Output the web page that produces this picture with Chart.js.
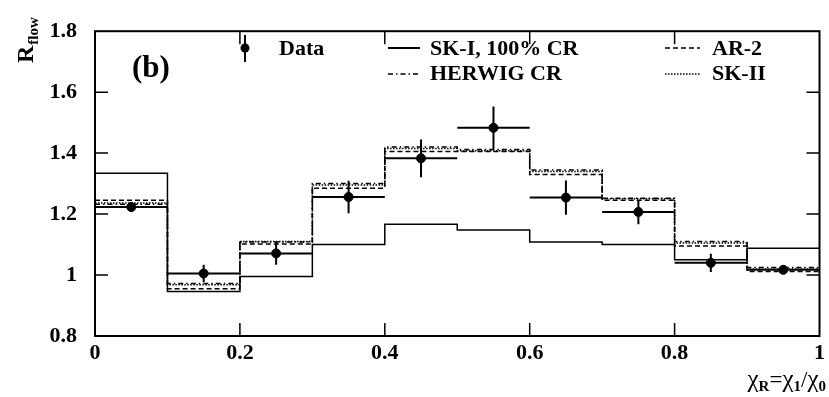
<!DOCTYPE html>
<html>
<head>
<meta charset="utf-8">
<script src="https://cdn.jsdelivr.net/npm/chart.js@4"></script>
<style>
  body { margin: 0; background: #fff; }
  canvas { display: block; }
</style>
</head>
<body>
<canvas id="myChart" width="829" height="397"></canvas>
<script>
// bin edges of the histograms, data points sit at the bin centres
var binEdges = [0, 0.1, 0.2, 0.3, 0.4, 0.5, 0.6, 0.7, 0.8, 0.9, 1.0];
var binCentres = [0.05, 0.15, 0.25, 0.35, 0.45, 0.55, 0.65, 0.75, 0.85, 0.95];

var dataVals = [1.223, 1.005, 1.071, 1.256, 1.383, 1.483, 1.254, 1.207, 1.040, 1.017];
var dataErr  = [0.016, 0.029, 0.037, 0.053, 0.062, 0.070, 0.056, 0.040, 0.030, 0.010];

var sk1Vals    = [1.334, 0.946, 0.995, 1.100, 1.167, 1.148, 1.108, 1.100, 1.050, 1.088];
var ar2Vals    = [1.245, 0.955, 1.102, 1.285, 1.405, 1.405, 1.330, 1.245, 1.095, 1.012];
var herwigVals = [1.232, 0.972, 1.108, 1.300, 1.420, 1.412, 1.345, 1.252, 1.110, 1.025];
var sk2Vals    = [1.236, 0.968, 1.110, 1.295, 1.415, 1.408, 1.340, 1.250, 1.105, 1.020];

var xTicks = [0, 0.2, 0.4, 0.6, 0.8, 1];
var yTicks = [0.8, 1, 1.2, 1.4, 1.6, 1.8];

var FONT = "'Liberation Serif', 'Times New Roman', serif";

function histPoints(vals) {
    var pts = [];
    for (var i = 0; i < vals.length; i++) pts.push({x: binEdges[i], y: vals[i]});
    pts.push({x: binEdges[binEdges.length - 1], y: vals[vals.length - 1]});
    return pts;
}

function histDataset(label, vals, width, dash) {
    return {
        type: 'line',
        label: label,
        data: histPoints(vals),
        stepped: true,
        borderColor: '#000',
        borderWidth: width,
        borderDash: dash,
        pointRadius: 0,
        fill: false
    };
}

// error bars, frame, inside ticks, legend and axis titles
var decorPlugin = {
    id: 'decor',
    afterDatasetsDraw: function(chart) {
        var ctx = chart.ctx;
        var xs = chart.scales.x, ys = chart.scales.y;
        ctx.save();
        ctx.strokeStyle = '#000';
        ctx.lineWidth = 2;
        for (var i = 0; i < dataVals.length; i++) {
            var px = xs.getPixelForValue(binCentres[i]);
            var py = ys.getPixelForValue(dataVals[i]);
            ctx.beginPath();
            ctx.moveTo(xs.getPixelForValue(binCentres[i] - 0.05), py);
            ctx.lineTo(xs.getPixelForValue(binCentres[i] + 0.05), py);
            ctx.moveTo(px, ys.getPixelForValue(dataVals[i] - dataErr[i]));
            ctx.lineTo(px, ys.getPixelForValue(dataVals[i] + dataErr[i]));
            ctx.stroke();
        }
        ctx.restore();
    },
    afterDraw: function(chart) {
        var ctx = chart.ctx;
        var a = chart.chartArea;
        var xs = chart.scales.x, ys = chart.scales.y;
        ctx.save();
        ctx.strokeStyle = '#000';
        ctx.fillStyle = '#000';

        // frame
        ctx.lineWidth = 2;
        ctx.strokeRect(a.left, a.top, a.right - a.left, a.bottom - a.top);

        // ticks pointing inwards
        ctx.lineWidth = 1.5;
        ctx.beginPath();
        xTicks.slice(1, -1).forEach(function(v) {
            var p = xs.getPixelForValue(v);
            ctx.moveTo(p, a.bottom); ctx.lineTo(p, a.bottom - 13);
            ctx.moveTo(p, a.top); ctx.lineTo(p, a.top + 13);
        });
        yTicks.slice(1, -1).forEach(function(v) {
            var p = ys.getPixelForValue(v);
            ctx.moveTo(a.left, p); ctx.lineTo(a.left + 13, p);
            ctx.moveTo(a.right, p); ctx.lineTo(a.right - 13, p);
        });
        ctx.stroke();

        // legend
        ctx.font = 'bold 22px ' + FONT;
        ctx.textBaseline = 'alphabetic';
        ctx.beginPath();
        ctx.arc(245, 48, 4.5, 0, Math.PI * 2);
        ctx.fill();
        ctx.lineWidth = 2;
        ctx.beginPath();
        ctx.moveTo(245, 35); ctx.lineTo(245, 62);
        ctx.stroke();
        ctx.fillText('Data', 279, 55);

        function sample(x0, x1, y, w, dash) {
            ctx.lineWidth = w;
            ctx.setLineDash(dash);
            ctx.beginPath();
            ctx.moveTo(x0, y); ctx.lineTo(x1, y);
            ctx.stroke();
            ctx.setLineDash([]);
        }
        sample(388, 420, 48, 2, []);
        ctx.fillText('SK-I, 100% CR', 430, 55);
        sample(388, 420, 74, 1.5, [5, 3, 1.5, 3]);
        ctx.fillText('HERWIG CR', 430, 80);
        sample(665, 700, 48, 1.5, [5, 3]);
        ctx.fillText('AR-2', 712, 55);
        sample(665, 700, 74, 1.5, [1.5, 1.5]);
        ctx.fillText('SK-II', 712, 80);

        ctx.font = 'bold 31px ' + FONT;
        ctx.fillText('(b)', 132, 77);

        // y title R_flow, rotated
        ctx.save();
        ctx.translate(33, 63);
        ctx.rotate(-Math.PI / 2);
        ctx.font = 'bold 24px ' + FONT;
        ctx.fillText('R', 0, 0);
        var rw = ctx.measureText('R').width;
        ctx.font = 'bold 15px ' + FONT;
        ctx.fillText('flow', rw + 1, 5);
        ctx.restore();

        // x title chi_R = chi_1 / chi_0, right aligned
        var parts = [
            ['χ', '25px ' + FONT, 0],
            ['R', 'bold 15px ' + FONT, 4],
            ['=', '23px ' + FONT, 0],
            ['χ', '25px ' + FONT, 0],
            ['1', 'bold 15px ' + FONT, 4],
            ['/', '23px ' + FONT, 0],
            ['χ', '25px ' + FONT, 0],
            ['0', 'bold 15px ' + FONT, 4]
        ];
        var total = 0;
        parts.forEach(function(p) { ctx.font = p[1]; total += ctx.measureText(p[0]).width; });
        var x = 826 - total;
        parts.forEach(function(p) {
            ctx.font = p[1];
            ctx.fillText(p[0], x, 387 + p[2]);
            x += ctx.measureText(p[0]).width;
        });

        ctx.restore();
    }
};

var config = {
    type: 'scatter',
    data: {
        datasets: [
            {
                label: 'Data',
                data: binCentres.map(function(c, i) { return {x: c, y: dataVals[i]}; }),
                backgroundColor: '#000',
                borderColor: '#000',
                pointRadius: 4.5,
                pointHoverRadius: 4.5
            },
            histDataset('SK-I, 100% CR', sk1Vals, 1.5, []),
            histDataset('HERWIG CR', herwigVals, 1.5, [5, 3, 1.5, 3]),
            histDataset('AR-2', ar2Vals, 1.5, [5, 3]),
            histDataset('SK-II', sk2Vals, 1.5, [1.5, 1.5])
        ]
    },
    options: {
        responsive: false,
        animation: false,
        layout: { padding: { top: 16, right: 4, left: 0, bottom: 0 } },
        scales: {
            x: {
                type: 'linear',
                min: 0,
                max: 1,
                afterFit: function(s) { s.height = 61; },
                afterBuildTicks: function(s) { s.ticks = xTicks.map(function(v) { return {value: v}; }); },
                grid: { display: false, drawTicks: false },
                border: { display: false },
                ticks: {
                    padding: 4,
                    color: '#000',
                    font: { family: FONT, size: 22, weight: 'bold' },
                    callback: function(v) { return String(Number(v.toFixed(1))); }
                }
            },
            y: {
                type: 'linear',
                min: 0.8,
                max: 1.8,
                afterFit: function(s) { s.width = 95; },
                afterBuildTicks: function(s) { s.ticks = yTicks.map(function(v) { return {value: v}; }); },
                grid: { display: false, drawTicks: false },
                border: { display: false },
                ticks: {
                    padding: 18,
                    color: '#000',
                    font: { family: FONT, size: 22, weight: 'bold' },
                    callback: function(v) { return String(Number(v.toFixed(1))); }
                }
            }
        },
        plugins: {
            legend: { display: false },
            tooltip: { enabled: false }
        }
    },
    plugins: [decorPlugin]
};

var myChart = new Chart(document.getElementById('myChart').getContext('2d'), config);
</script>
</body>
</html>
